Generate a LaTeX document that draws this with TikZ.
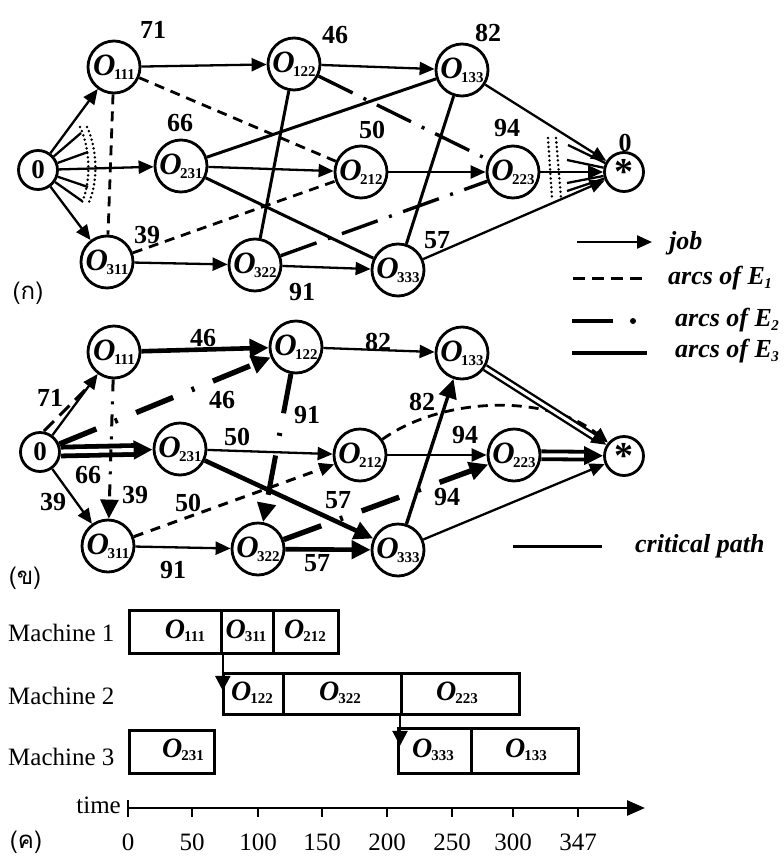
\documentclass[tikz,border=0pt]{standalone}
\usepackage{fontspec}
\setmainfont{Liberation Serif}
\newfontfamily\thaifont[Script=Thai]{Loma}
\usetikzlibrary{arrows.meta}

% operation label O_{ijk}: graph size and Gantt-box size
\newcommand\opg[1]{{\fontsize{31}{31}\selectfont\bfseries\itshape O}\kern-1.5pt\raisebox{-4pt}{\fontsize{15}{15}\selectfont\bfseries #1}}
\newcommand\opb[1]{{\fontsize{28}{28}\selectfont\bfseries\itshape O}\kern-1pt\raisebox{-3pt}{\fontsize{15}{15}\selectfont\bfseries #1}}
\newcommand\esub[1]{E\kern-0.5pt\raisebox{-4pt}{\fontsize{15}{15}\selectfont #1}}

\tikzset{
  op/.style={draw,circle,line width=2.8pt,minimum size=52pt,inner sep=0pt},
  term/.style={draw,circle,line width=2.8pt,minimum size=39pt,inner sep=0pt},
  num/.style={font=\fontsize{26}{26}\selectfont\bfseries,inner sep=0pt},
  tnum/.style={font=\fontsize{25}{25}\selectfont,inner sep=0pt},
  tipS/.style={-{Triangle[length=15pt,width=13pt]}},
  tipL/.style={-{Triangle[length=19pt,width=18pt]}},
  job/.style={line width=2.3pt,tipS},
  eone/.style={line width=2.8pt,dash pattern=on 10pt off 7pt},
  etwo/.style={line width=3.4pt,dash pattern=on 38pt off 12pt on 3pt off 12pt},
  ethree/.style={line width=3pt},
  stub/.style={line width=2.3pt},
  dotcol/.style={line width=2.8pt,line cap=round,dash pattern=on 0pt off 4.5pt},
  heavy/.style={line width=4.6pt,tipL},
  gbox/.style={draw,line width=2.8pt,inner sep=0pt,anchor=north west},
  lgd/.style={font=\fontsize{26}{26}\selectfont\bfseries\itshape,anchor=west,inner sep=0pt},
  mlab/.style={font=\fontsize{25}{25}\selectfont,anchor=west,inner sep=0pt},
  tlab/.style={font=\thaifont\fontsize{24}{24}\selectfont,inner sep=0pt},
}

\begin{document}
\begin{tikzpicture}[x=1pt,y=-1pt]
\useasboundingbox[fill=white] (0,0) rectangle (784,860);

% ---------------- (a) disjunctive graph ----------------
\node[term] (a0) at (38,170) {\fontsize{27}{27}\selectfont\bfseries 0};
\node[op] (a111) at (114,67) {\opg{111}};
\node[op] (a122) at (294,64) {\opg{122}};
\node[op] (a133) at (462,70) {\opg{133}};
\node[op] (a231) at (181,166) {\opg{231}};
\node[op] (a212) at (361,172) {\opg{212}};
\node[op] (a223) at (513,172) {\opg{223}};
\node[term] (aend) at (624,172) {\raisebox{-10pt}{\fontsize{38}{38}\selectfont\bfseries *}};
\node[op] (a311) at (107,262) {\opg{311}};
\node[op] (a322) at (255,265) {\opg{322}};
\node[op] (a333) at (398,270) {\opg{333}};

% machine arcs
\draw[ethree] (a231) -- (a133);
\draw[ethree] (a231) -- (a333);
\draw[ethree] (a133) -- (a333);
\draw[ethree] (a122) -- (a322);
\draw[etwo] (a122) -- (a223);
\draw[etwo] (a322) -- (a223);
\draw[eone] (a111) -- (a311);
\draw[eone] (a111) -- (a212);
\draw[eone] (a311) -- (a212);

% job arcs
\draw[job] (a0) -- (a111);
\draw[job] (a0) -- (a231);
\draw[job] (a0) -- (a311);
\draw[job] (a111) -- (a122);
\draw[job] (a122) -- (a133);
\draw[job] (a133) -- (aend);
\draw[job] (a231) -- (a212);
\draw[job] (a212) -- (a223);
\draw[job] (a223) -- (aend);
\draw[job] (a311) -- (a322);
\draw[job] (a322) -- (a333);
\draw[job] (a333) -- (aend);

% fans of further arcs at source and sink
\coordinate (f1) at (81,133);
\coordinate (f2) at (88,152);
\coordinate (f3) at (88,187);
\coordinate (f4) at (82,201);
\foreach \c in {f1,f2,f3,f4} \draw[stub] (a0) -- (\c);
\draw[dotcol] (80,127) .. controls (91,150) and (91,185) .. (81,204);
\draw[dotcol] (87,127) .. controls (98,150) and (98,185) .. (88,204);
\coordinate (g1) at (568,145);
\coordinate (g2) at (567,160);
\coordinate (g3) at (567,183);
\coordinate (g4) at (567,191);
\foreach \c in {g1,g2,g3,g4} \draw[stub] (\c) -- (aend);
\draw[dotcol] (548,138) -- (552,198);
\draw[dotcol] (556,138) -- (561,198);

% processing times
\node[num] (la71) at (153,30) {71};
\node[num] (la46) at (335,35) {46};
\node[num] (la82) at (488,33) {82};
\node[num] (la66) at (180,123) {66};
\node[num] (la50) at (372,130) {50};
\node[num] (la94) at (507,128) {94};
\node[num] (la0) at (625,143) {0};
\node[num] (la39) at (147,235) {39};
\node[num] (la91) at (302,292) {91};
\node[num] (la57) at (437,240) {57};
\node[tlab] (cap1) at (28,293) {(ก)};

% legend
\coordinate (k1a) at (577,242); \coordinate (k1b) at (652,242);
\draw[job] (k1a) -- (k1b);
\node[lgd] (k1) at (669,243) {job};
\coordinate (k2a) at (573,278); \coordinate (k2b) at (643,278);
\draw[line width=3pt,dash pattern=on 12pt off 7pt] (k2a) -- (k2b);
\node[lgd] (k2) at (668,278) {arcs of \esub{1}};
\coordinate (k3a) at (572,321); \coordinate (k3b) at (613,321);
\draw[line width=3.4pt] (k3a) -- (k3b);
\fill (633,321) circle (3pt);
\node[lgd] (k3) at (675,320) {arcs of \esub{2}};
\coordinate (k4a) at (572,353); \coordinate (k4b) at (647,353);
\draw[line width=3.4pt] (k4a) -- (k4b);
\node[lgd] (k4) at (675,351) {arcs of \esub{3}};
\coordinate (k5a) at (513,546); \coordinate (k5b) at (602,546);
\draw[line width=3pt] (k5a) -- (k5b);
\node[lgd] (k5) at (635,546) {critical path};

% ---------------- (b) selected graph ----------------
\node[term] (b0) at (40,452) {\fontsize{27}{27}\selectfont\bfseries 0};
\node[op] (b111) at (114,352) {\opg{111}};
\node[op] (b122) at (296,347) {\opg{122}};
\node[op] (b133) at (462,353) {\opg{133}};
\node[op] (b231) at (180,449) {\opg{231}};
\node[op] (b212) at (360,455) {\opg{212}};
\node[op] (b223) at (514,455) {\opg{223}};
\node[term] (bend) at (624,456) {\raisebox{-10pt}{\fontsize{38}{38}\selectfont\bfseries *}};
\node[op] (b311) at (108,546) {\opg{311}};
\node[op] (b322) at (258,549) {\opg{322}};
\node[op] (b333) at (398,550) {\opg{333}};

\coordinate (c1) at (44,431);
\coordinate (c2) at (94,381);
\draw[line width=3pt,dash pattern=on 14pt off 8pt] (c1) -- (c2);
\draw[job] (b0) -- (b111);
\draw[line width=4.8pt,double,double distance=4pt,tipL] (b0) -- (b231);
\draw[job] (b0) -- (b311);
\draw[line width=5.4pt,dash pattern=on 40pt off 20pt on 3pt off 20pt,tipL] (b0) -- (b122);
\draw[heavy] (b111) -- (b122);
\draw[line width=3pt,dash pattern=on 12pt off 10pt on 3pt off 10pt,tipL] (b111) -- (b311);
\draw[job] (b122) -- (b133);
\draw[line width=5pt,dash pattern=on 40pt off 20pt on 3pt off 20pt,tipL] (b122) -- (b322);
\draw[job] (b231) -- (b212);
\draw[heavy] (b231) -- (b333);
\draw[line width=3pt,dash pattern=on 10pt off 8pt,tipS] (b311) -- (b212);
\draw[job] (b311) -- (b322);
\draw[heavy] (b322) -- (b333);
\draw[line width=5.4pt,dash pattern=on 40pt off 20pt on 3pt off 20pt,tipL] (b322) -- (b223);
\draw[job] (b212) -- (b223);
\draw[line width=3.4pt,tipL] (b333) -- (b133);
\draw[line width=2.8pt,dash pattern=on 10pt off 7pt,tipS] (b212.35) .. controls (440,398) and (545,392) .. (bend.140);
\draw[line width=2.4pt,double,double distance=3pt,tipS] (b133) -- (bend);
\draw[line width=3.8pt,double,double distance=4pt,tipL] (b223) -- (bend);
\draw[job] (b333) -- (bend);

\node[num] (lb71) at (50,398) {71};
\node[num] (lb46a) at (203,338) {46};
\node[num] (lb46b) at (222,400) {46};
\node[num] (lb82a) at (378,342) {82};
\node[num] (lb91a) at (307,415) {91};
\node[num] (lb50a) at (237,437) {50};
\node[num] (lb82b) at (422,402) {82};
\node[num] (lb94a) at (465,435) {94};
\node[num] (lb94b) at (447,497) {94};
\node[num] (lb66) at (88,475) {66};
\node[num] (lb39a) at (53,502) {39};
\node[num] (lb39b) at (135,495) {39};
\node[num] (lb50b) at (188,503) {50};
\node[num] (lb57a) at (338,500) {57};
\node[num] (lb91b) at (173,570) {91};
\node[num] (lb57b) at (317,563) {57};
\node[tlab] (cap2) at (25,578) {(ข)};

% ---------------- (c) Gantt chart ----------------
\node[mlab] (m1) at (8,633) {Machine 1};
\node[mlab] (m2) at (8,696) {Machine 2};
\node[mlab] (m3) at (8,757) {Machine 3};

\node[gbox,minimum width=92pt,minimum height=43pt] (g111) at (128,609) {};
\node[gbox,minimum width=52pt,minimum height=43pt] (g311) at (220,609) {};
\node[gbox,minimum width=65pt,minimum height=43pt] (g212) at (272,609) {};
\node[gbox,minimum width=60pt,minimum height=41pt] (g122) at (222,672) {};
\node[gbox,minimum width=118pt,minimum height=41pt] (g322) at (282,672) {};
\node[gbox,minimum width=118pt,minimum height=41pt] (g223) at (400,672) {};
\node[gbox,minimum width=85pt,minimum height=43pt] (g231) at (128,729) {};
\node[gbox,minimum width=73pt,minimum height=45pt] (g333) at (397,727) {};
\node[gbox,minimum width=107pt,minimum height=45pt] (g133) at (470,727) {};

\node (t111) at (185,631) {\opb{111}};
\node (t311) at (246,631) {\opb{311}};
\node (t212) at (305,631) {\opb{212}};
\node (t122) at (252,693) {\opb{122}};
\node (t322) at (340,693) {\opb{322}};
\node (t223) at (457,693) {\opb{223}};
\node (t231) at (183,750) {\opb{231}};
\node (t333) at (433,750) {\opb{333}};
\node (t133) at (526,750) {\opb{133}};

\draw[line width=2.6pt,-{Triangle[length=15pt,width=15pt]}] (g111.south east) -- ++(0,36);
\draw[line width=2.6pt,-{Triangle[length=15pt,width=15pt]}] (g223.south west) -- ++(0,30);

% time axis
\coordinate (ax0) at (128,808);
\coordinate (ax1) at (645,808);
\draw[line width=2.6pt,-{Triangle[length=18pt,width=15pt]}] (ax0) -- (ax1);
\draw[line width=2.4pt] (128,800) -- (128,816);
\foreach \x/\t in {128/0,192/50,258/100,322/150,387/200,452/250,513/300,578/347}{
  \draw[line width=2.4pt] (\x,808) -- (\x,817);
  \node[tnum] at (\x,842) {\t};
}
\node[font=\fontsize{25}{25}\selectfont,anchor=east,inner sep=0pt] (tm) at (121,805) {time};
\node[tlab] (cap3) at (26,842) {(ค)};
\end{tikzpicture}
\end{document}
